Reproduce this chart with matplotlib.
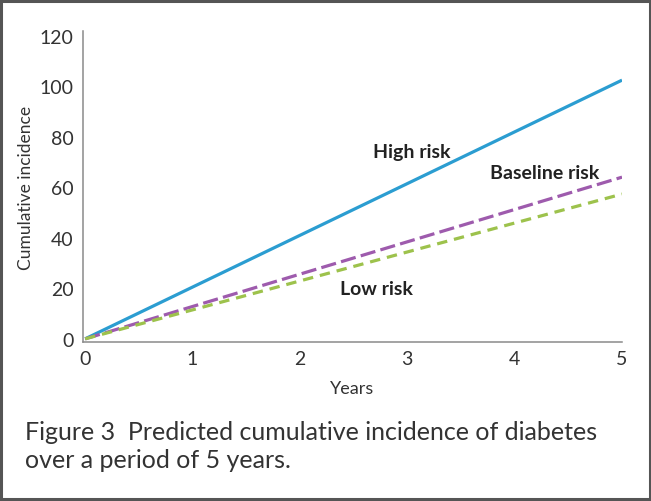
import numpy as np
import matplotlib.pyplot as plt
from matplotlib.patches import Rectangle

# Cumulative incidence (%) at start and end of follow-up
years = [0, 5]
high_risk = [0, 102.4]
baseline_risk = [0, 64.0]
low_risk = [0, 57.3]

x_ticks = [0, 1, 2, 3, 4, 5]
y_ticks = [0, 20, 40, 60, 80, 100, 120]

plt.rcParams['font.family'] = ['Lato', 'DejaVu Sans']
plt.rcParams['lines.scale_dashes'] = False

fig = plt.figure(figsize=(6.51, 5.02), dpi=100)
ax = fig.add_axes([0.1275, 0.317, 0.828, 0.619])

ax.plot(years, high_risk, color='#2b9dd1', lw=2.3, solid_capstyle='butt')
ax.plot(years, baseline_risk, color='#9e5bad', lw=2.3,
        dashes=(11, 3.8))
ax.plot(years, low_risk, color='#9dc24c', lw=2.3,
        dashes=(7.5, 5.0))

# Series labels
ax.text(3.04, 74.2, "High risk", fontsize=14, fontweight='bold',
        color='#222222', ha='center', va='center')
ax.text(4.28, 65.8, "Baseline risk", fontsize=14, fontweight='bold',
        color='#222222', ha='center', va='center')
ax.text(2.71, 19.8, "Low risk", fontsize=14, fontweight='bold',
        color='#222222', ha='center', va='center')

ax.set_xlim(-0.02, 5.0)
ax.set_ylim(-1.2, 121.8)
ax.set_xticks(x_ticks)
ax.set_yticks(y_ticks)
ax.tick_params(length=0, labelsize=14, colors='#333333', pad=7)
ax.tick_params(axis='x', pad=6)

for side in ['top', 'right']:
    ax.spines[side].set_visible(False)
for side in ['left', 'bottom']:
    ax.spines[side].set_color('#8a8a8a')
    ax.spines[side].set_linewidth(1.1)

ax.set_xlabel("Years", fontsize=13, color='#333333', labelpad=9)
ax.set_ylabel("Cumulative incidence", fontsize=12.5, color='#333333',
              labelpad=4)

# Caption
fig.text(0.038, 0.1106,
         "Figure 3  Predicted cumulative incidence of diabetes\n"
         "over a period of 5 years.",
         fontsize=18, color='#333333', ha='left', va='center',
         linespacing=1.3)

# Outer frame
fig.patches.append(Rectangle((0.002, 0.003), 0.996, 0.994,
                             transform=fig.transFigure, fill=False,
                             edgecolor='#555555', linewidth=2.2))

fig.savefig("out.png", dpi=100)
